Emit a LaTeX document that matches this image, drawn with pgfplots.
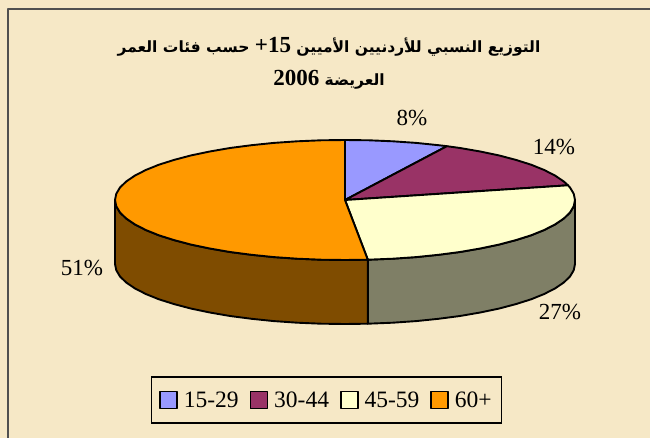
\documentclass[border=0pt]{standalone}
\usepackage{fontspec}
\usepackage{pgfplots}
\pgfplotsset{compat=1.18}
\setmainfont{Liberation Serif}
\newfontfamily\arabicfont[Script=Arabic]{DejaVu Sans}
\TeXXeTstate=1
\definecolor{bg}{HTML}{F6E8C6}
\definecolor{frameline}{HTML}{505050}
\definecolor{sliceA}{HTML}{9999FF}
\definecolor{sliceB}{HTML}{993366}
\definecolor{sliceC}{HTML}{FFFFCC}
\definecolor{sliceD}{HTML}{FF9900}
\definecolor{sideC}{HTML}{7F7F66}
\definecolor{sideD}{HTML}{7F4C00}
\begin{document}
\begin{tikzpicture}
\begin{axis}[
  scale only axis,
  width=650pt, height=438pt,
  xmin=0, xmax=650, ymin=0, ymax=438,
  y dir=reverse,
  hide axis,
  legend columns=4,
  legend style={
    at={(axis cs:326.5,400)}, anchor=center,
    draw=black, line width=1.6pt, fill=none,
    font=\fontsize{23.5}{25}\selectfont,
    inner xsep=8pt, inner ysep=12.5pt,
    /tikz/every odd column/.append style={column sep=4pt},
    /tikz/every even column/.append style={column sep=9pt},
  },
  legend image code/.code={\draw[#1,line width=1.5pt] (0pt,-8.5pt) rectangle (17pt,8.5pt);},
  every axis plot/.append style={draw=black, line width=1.9pt, line join=round},
]
% background and chart frame (cut off at right and bottom)
\addplot[forget plot, fill=bg, draw=none] coordinates {(0,0)(650,0)(650,438)(0,438)} -- cycle;
\addplot[forget plot, draw=frameline, line width=1.6pt] coordinates {(8,438)(8,9)(650,9)};

% side walls, depth 64
\addplot[forget plot, fill=sideC] coordinates {
  (575,200)(573.7,206.3)(570,212.5)(563.8,218.5)(555.1,224.4)(544.2,230)(531.1,235.3)(515.9,240.1)
  (498.9,244.6)(480.2,248.5)(460,252)(438.5,254.8)(416.1,257.1)(392.8,258.7)(367.8,259.7)
  (367.8,323.7)(392.8,322.7)(416.1,321.1)(438.5,318.8)(460,316)(480.2,312.5)(498.9,308.6)
  (515.9,304.1)(531.1,299.3)(544.2,294)(555.1,288.4)(563.8,282.5)(570,276.5)(573.7,270.3)(575,264)
} -- cycle;
\addplot[forget plot, fill=sideD] coordinates {
  (367.8,259.7)(345,260)(321,259.7)(297.2,258.7)(273.9,257.1)(251.5,254.8)(230,252)(209.8,248.5)
  (191.1,244.6)(174.1,240.1)(158.9,235.3)(145.8,230)(134.9,224.4)(126.2,218.5)(120,212.5)(116.3,206.3)(115,200)
  (115,264)(116.3,270.3)(120,276.5)(126.2,282.5)(134.9,288.4)(145.8,294)(158.9,299.3)(174.1,304.1)
  (191.1,308.6)(209.8,312.5)(230,316)(251.5,318.8)(273.9,321.1)(297.2,322.7)(321,323.7)(345,324)(367.8,323.7)
} -- cycle;

% top slices
\addplot[fill=sliceA] coordinates {
  (345,200)(345,140)(369,140.3)(392.8,141.3)(416.1,142.9)(438.5,145.2)(446.9,146.2)
} -- cycle;
\addlegendentry{15-29}
\addplot[fill=sliceB] coordinates {
  (345,200)(446.9,146.2)(460,148)(480.2,151.5)(498.9,155.4)(515.9,159.9)(531.1,164.7)(544.2,170)
  (555.1,175.6)(563.8,181.5)(568,185.3)
} -- cycle;
\addlegendentry{30-44}
\addplot[fill=sliceC] coordinates {
  (345,200)(568,185.3)(570,187.5)(573.7,193.7)(575,200)(573.7,206.3)(570,212.5)(563.8,218.5)(555.1,224.4)
  (544.2,230)(531.1,235.3)(515.9,240.1)(498.9,244.6)(480.2,248.5)(460,252)(438.5,254.8)(416.1,257.1)
  (392.8,258.7)(367.8,259.7)
} -- cycle;
\addlegendentry{45-59}
\addplot[fill=sliceD] coordinates {
  (345,200)(367.8,259.7)(345,260)(321,259.7)(297.2,258.7)(273.9,257.1)(251.5,254.8)(230,252)(209.8,248.5)
  (191.1,244.6)(174.1,240.1)(158.9,235.3)(145.8,230)(134.9,224.4)(126.2,218.5)(120,212.5)(116.3,206.3)
  (115,200)(116.3,193.7)(120,187.5)(126.2,181.5)(134.9,175.6)(145.8,170)(158.9,164.7)(174.1,159.9)
  (191.1,155.4)(209.8,151.5)(230,148)(251.5,145.2)(273.9,142.9)(297.2,141.3)(321,140.3)(345,140)
} -- cycle;
\addlegendentry{60+}

% percentage labels
\node[font=\fontsize{23}{24}\selectfont] at (axis cs:412,118) {8\%};
\node[font=\fontsize{23}{24}\selectfont] at (axis cs:554,147) {14\%};
\node[font=\fontsize{23}{24}\selectfont] at (axis cs:560,312) {27\%};
\node[font=\fontsize{23}{24}\selectfont] at (axis cs:82,268) {51\%};

% title
\node[font=\fontsize{15.5}{20}\selectfont\bfseries] at (axis cs:329,47)
  {\arabicfont\beginR التوزيع النسبي للأردنيين الأميين \beginL{\fontsize{23}{24}\selectfont\rmfamily\bfseries +15}\endL{} حسب فئات العمر\endR};
\node[font=\fontsize{15.5}{20}\selectfont\bfseries] at (axis cs:329,80)
  {\arabicfont\beginR العريضة \beginL{\fontsize{23}{24}\selectfont\rmfamily\bfseries 2006}\endL\endR};
\end{axis}
\end{tikzpicture}
\end{document}
